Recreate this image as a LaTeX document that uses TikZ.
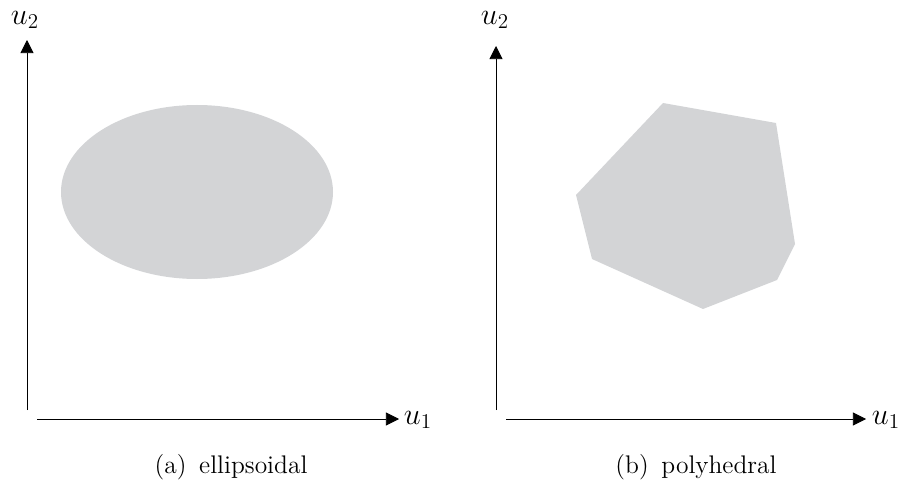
\documentclass[tikz,border=0pt]{standalone}
\usetikzlibrary{arrows.meta}
\definecolor{setgray}{RGB}{211,212,214}
\tikzset{
  axis/.style={-{Triangle[length=7.5pt,width=7.5pt]}, line width=0.5pt},
  axislabel/.style={font=\fontsize{17}{20}\selectfont},
  caption/.style={font=\fontsize{14.5}{17}\selectfont, anchor=base}
}
\begin{document}
\begin{tikzpicture}[x=0.02cm, y=-0.02cm]
  \useasboundingbox (0,0) rectangle (905,486);

  %	Left: ellipsoidal set
  \fill[setgray] (197,192) ellipse (136 and 87);
  \coordinate (ao) at (27,410);% start of vertical axis
  \coordinate (aoh) at (37,419);% start of horizontal axis
  \coordinate (atop) at (27,40);
  \coordinate (aright) at (399,419);
  \draw[axis] (ao) -- (atop);
  \draw[axis] (aoh) -- (aright);
  \node[axislabel] (au2) at (25,20) {$u_2$};
  \node[axislabel] (au1) at (418,420) {$u_1$};
  \node[caption] (acap) at (231,473) {(a)\enspace ellipsoidal};

  %	Right: polyhedral set
  \fill[setgray] (663,103) -- (776,123) -- (795,244) -- (777,280)
    -- (703,309) -- (592,259) -- (576,195) -- cycle;
  \coordinate (bo) at (496,410);
  \coordinate (boh) at (506,419);
  \coordinate (btop) at (496,46);
  \coordinate (bright) at (866,419);
  \draw[axis] (bo) -- (btop);
  \draw[axis] (boh) -- (bright);
  \node[axislabel] (bu2) at (495,20) {$u_2$};
  \node[axislabel] (bu1) at (886,420) {$u_1$};
  \node[caption] (bcap) at (696,473) {(b)\enspace polyhedral};
\end{tikzpicture}
\end{document}
